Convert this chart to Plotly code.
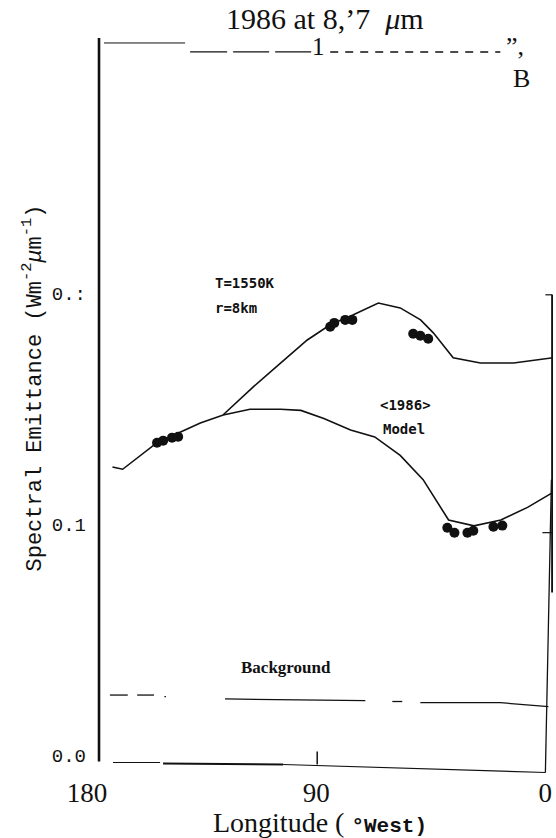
import plotly.graph_objects as go

# ---------------- data ----------------
lower_lon = [170, 166, 152.5, 143.5, 135.5, 126.5, 116, 104, 96, 87, 76.5, 67, 57, 48, 38, 28, 17.5, 7, -3]
lower_val = [0.125, 0.124, 0.1355, 0.140, 0.144, 0.1475, 0.150, 0.150, 0.1495, 0.146, 0.141, 0.138, 0.130,
             0.1195, 0.102, 0.0995, 0.102, 0.1075, 0.114]

upper_lon = [126.5, 114.7, 104, 93.5, 84.5, 75.4, 65.6, 57, 49, 44, 36.2, 25.5, 12.5, -3]
upper_val = [0.1476, 0.1597, 0.170, 0.180, 0.1866, 0.1909, 0.196, 0.1939, 0.1887, 0.1831, 0.1723, 0.170,
             0.170, 0.1723]

obs_lon = [152.5, 150.1, 146.6, 144.2, 84.5, 82.9, 78.6, 75.8, 51.9, 49.1, 46.0,
           38.5, 35.7, 30.6, 28.3, 20.4, 16.9]
obs_val = [0.1355, 0.1364, 0.1377, 0.1381, 0.1857, 0.1874, 0.1887, 0.1887, 0.1827, 0.1818, 0.1805,
           0.0987, 0.0965, 0.0965, 0.0974, 0.0991, 0.0996]

bg_lon = [171, 164, None, 160.3, 153.7, None, 149.6, 149.0, None, 125.8, 70.7, None, 60.1, 56.2, None,
          49.1, 17.7, -1.2]
bg_val = [0.0262, 0.0262, None, 0.0262, 0.0262, None, 0.0255, 0.0255, None, 0.0245, 0.0238, None,
          0.0234, 0.0234, None, 0.0229, 0.0229, 0.0212]

x_ticks = [180, 90, 0]
x_ticktext = ["180", "90", "0"]
y_ticks = [0.0, 0.1, 0.2]
y_ticktext = ["0.0", "0.1", "0.:"]

# ---------------- layout geometry ----------------
W, H = 556, 838
L, R, T, B = 87, 3.4, 2, 63.5
X0, X1 = 180, -3
Y0, Y1 = -0.008, 0.3264


def px_x(px):
    return X0 + (px - L) / (W - L - R) * (X1 - X0)


def px_y(py):
    return Y1 - (py - T) / (H - T - B) * (Y1 - Y0)


INK = "#111111"
SERIF = "Liberation Serif"
MONO = "Liberation Mono"

fig = go.Figure()
fig.add_trace(go.Scatter(x=lower_lon, y=lower_val, mode="lines",
                         line=dict(color=INK, width=1.6), showlegend=False, hoverinfo="skip"))
fig.add_trace(go.Scatter(x=upper_lon, y=upper_val, mode="lines",
                         line=dict(color=INK, width=1.6), showlegend=False, hoverinfo="skip"))
fig.add_trace(go.Scatter(x=bg_lon, y=bg_val, mode="lines", connectgaps=False,
                         line=dict(color=INK, width=1.3), showlegend=False, hoverinfo="skip"))
fig.add_trace(go.Scatter(x=obs_lon, y=obs_val, mode="markers",
                         marker=dict(color=INK, size=10), showlegend=False, hoverinfo="skip"))

shapes = []


def seg(x0, y0, x1, y1, w=1.5, dash="solid"):
    shapes.append(dict(type="line", xref="x", yref="y", x0=px_x(x0), y0=px_y(y0),
                       x1=px_x(x1), y1=px_y(y1), line=dict(color=INK, width=w, dash=dash)))


# left axis line
seg(99, 38, 99, 762, 2.6)
# bottom axis line (scanned, slightly sloping)
seg(113, 763, 160, 763, 1.2)
seg(163, 764, 283, 765, 2.0)
seg(283, 765, 545, 773, 1.2)
seg(317, 752, 317, 765, 1.5)
# right edge lines
seg(552, 295, 552, 593, 2.5)
seg(545, 295, 552, 295, 1.2)
seg(542, 533, 552, 533, 1.2)
seg(551, 480, 545, 773, 1.3)
# top stroke row
seg(104, 43, 185, 43, 1.0)
seg(190, 52, 227, 52, 1.3)
seg(233, 52, 269, 52, 1.3)
seg(275, 52, 311, 52, 1.3)
seg(330, 52, 500, 52, 1.4, dash="8px,7px")

ann = []


def txt(text, x, y, size, family=SERIF, xanchor="center", bold=False):
    ann.append(dict(text=f"<b>{text}</b>" if bold else text, x=px_x(x), y=px_y(y), xref="x", yref="y",
                    xanchor=xanchor, yanchor="middle", showarrow=False,
                    font=dict(family=family, size=size, color=INK)))


txt("1986 at 8,’7  <i>μ</i>m", 325, 19, 30)
txt("0.", 46, 40, 17, family="Liberation Sans", bold=True)
txt("1", 318, 47, 25)
txt("”,", 504, 47, 26, xanchor="left")
txt("B", 521, 79, 26)
txt("T=1550K", 213, 283, 14, family="DejaVu Sans Mono", xanchor="left", bold=True)
txt("r=8km", 213, 308, 14, family="DejaVu Sans Mono", xanchor="left", bold=True)
txt("<1986>", 405, 405, 14, family="DejaVu Sans Mono", bold=True)
txt("Model", 404, 429, 14, family="DejaVu Sans Mono", bold=True)
txt("Background", 286, 668, 17, bold=True)

fig.update_layout(
    width=W, height=H,
    margin=dict(l=L, r=R, t=T, b=B, pad=0),
    paper_bgcolor="white", plot_bgcolor="white",
    shapes=shapes, annotations=ann,
    xaxis=dict(range=[X0, X1], showgrid=False, zeroline=False, showline=False, ticks="",
               tickvals=x_ticks, ticktext=x_ticktext,
               tickfont=dict(family=SERIF, size=27, color=INK),
               title=dict(text="Longitude ( <span style='font-family:Liberation Mono;font-size:21px'>"
                               "<b>°West)</b></span>",
                          font=dict(family=SERIF, size=28, color=INK), standoff=2)),
    yaxis=dict(range=[Y0, Y1], showgrid=False, zeroline=False, showline=False, ticks="",
               tickvals=y_ticks, ticktext=y_ticktext,
               tickfont=dict(family=MONO, size=19, color=INK),
               title=dict(text="Spectral Emittance (Wm<sup>-2</sup><i>μ</i>m<sup>-1</sup>)",
                          font=dict(family=MONO, size=22, color=INK), standoff=4)),
)

fig.write_html("out.html")
